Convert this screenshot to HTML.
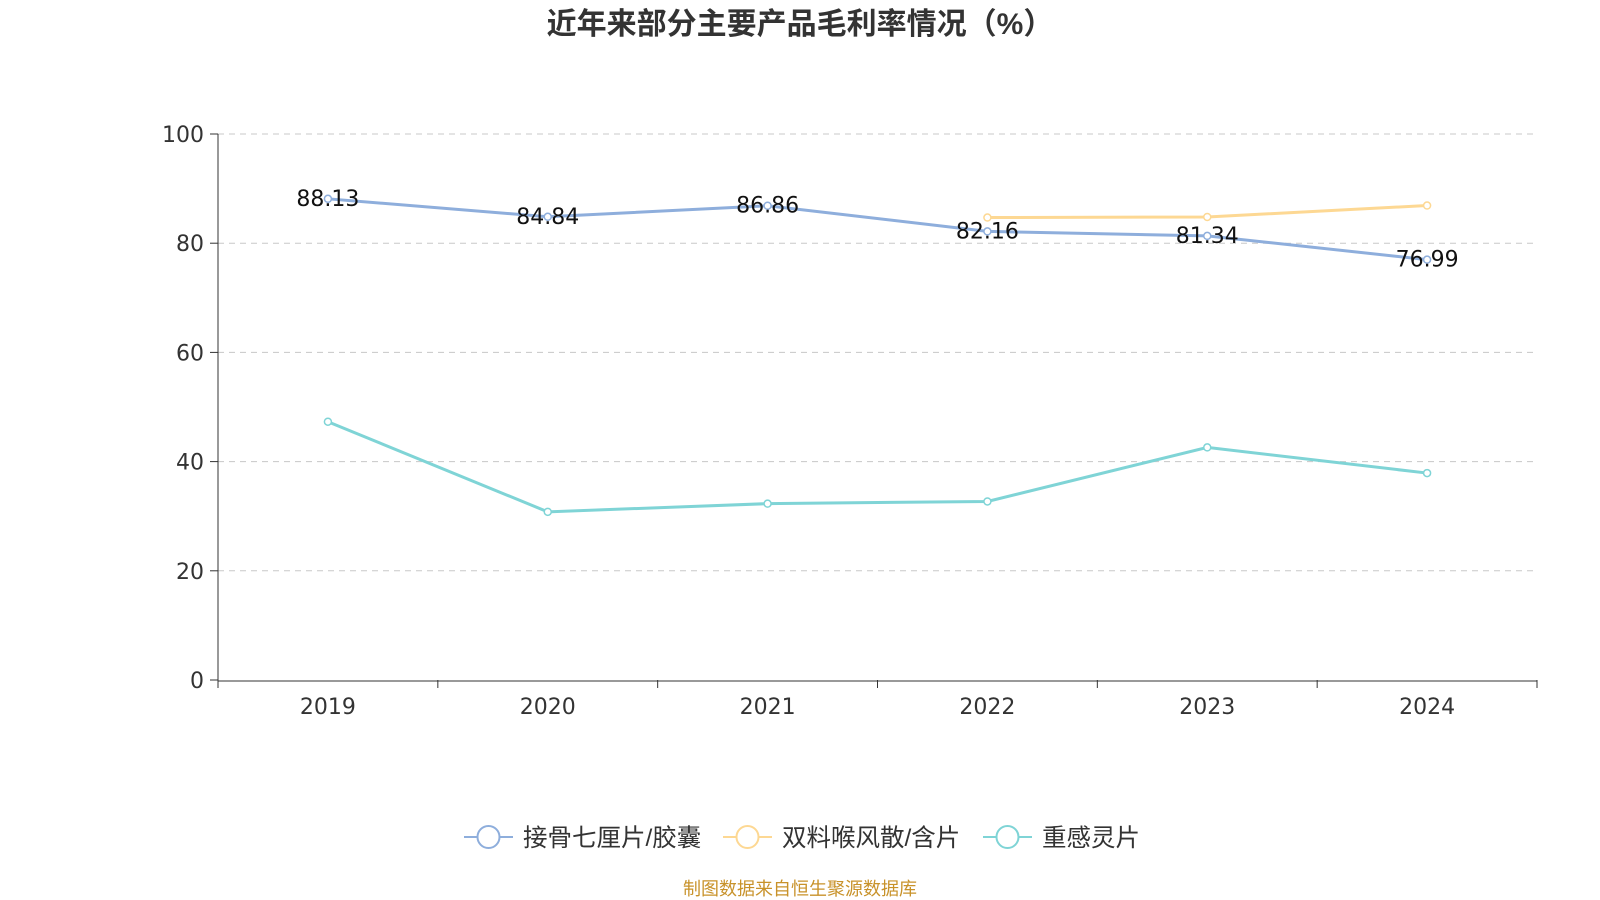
<!DOCTYPE html>
<html><head><meta charset="utf-8"><style>
body{margin:0;background:#fff;}
svg{display:block;font-family:"Liberation Sans","Noto Sans CJK SC",sans-serif;}
</style></head><body>
<svg id="c" width="1600" height="900">
<text x="800" y="34" text-anchor="middle" font-size="30" font-weight="bold" fill="#333">近年来部分主要产品毛利率情况（%）</text>
<g id="grid"></g><g id="axes"></g><g id="series"></g>
<g id="legend"></g>
<text x="800" y="895" text-anchor="middle" font-size="18" fill="#c8922a">制图数据来自恒生聚源数据库</text>
</svg>
<script>
const categories=["2019","2020","2021","2022","2023","2024"];
const seriesNames=["接骨七厘片/胶囊","双料喉风散/含片","重感灵片"];
const s1=[88.13,84.84,86.86,82.16,81.34,76.99];
const s2=[null,null,null,84.7,84.8,86.9];
const s3=[47.3,30.8,32.3,32.7,42.6,37.9];
const yTicks=[0,20,40,60,80,100];
const colors=["#8eaedc","#fdd893","#7fd4d6"];
const NS="http://www.w3.org/2000/svg";
const X0=218,X1=1537,Y0=680,Y1=134;
const band=(X1-X0)/categories.length;
const xs=i=>X0+band*(i+0.5);
const ys=v=>Y0-(v/100)*(Y0-Y1);
function mk(tag,at,parent){const e=document.createElementNS(NS,tag);for(const k in at)e.setAttribute(k,at[k]);parent.appendChild(e);return e;}
const grid=document.getElementById('grid'),axes=document.getElementById('axes'),ser=document.getElementById('series'),leg=document.getElementById('legend');
const numFont='"DejaVu Sans","Liberation Sans",sans-serif';
yTicks.forEach(t=>{
  const y=ys(t);
  if(t>0){const l=mk('line',{x1:X0,x2:X1,y1:y,y2:y,stroke:"#c8c8c8","stroke-dasharray":"6,5"},grid);
  
  }
  mk('line',{x1:X0-8,x2:X0,y1:y,y2:y,stroke:"#333"},axes);
  const tx=mk('text',{x:X0-14,y:y+8,"text-anchor":"end","font-size":22,fill:"#333","font-family":numFont},axes);tx.textContent=t;
  
  
});
mk('line',{x1:X0,x2:X0,y1:Y1,y2:Y0,stroke:"#333"},axes);
mk('line',{x1:X0,x2:X1,y1:Y0+1,y2:Y0+1,stroke:"#333"},axes);
for(let i=0;i<=categories.length;i++){const x=X0+band*i;mk('line',{x1:x,x2:x,y1:Y0,y2:Y0+8,stroke:"#333"},axes);}
categories.forEach((c,i)=>{const t=mk('text',{x:xs(i),y:Y0+34,"text-anchor":"middle","font-size":22,fill:"#333","font-family":numFont},axes);t.textContent=c;

});
[s1,s2,s3].forEach((s,k)=>{
  const pts=[];s.forEach((v,i)=>{if(v!==null)pts.push([xs(i),ys(v),v]);});
  const p=mk('polyline',{points:pts.map(p=>p[0]+","+p[1]).join(" "),fill:"none",stroke:colors[k],"stroke-width":3},ser);
  
  
  pts.forEach(pt=>{const c=mk('circle',{cx:pt[0],cy:pt[1],r:3.5,fill:"#fff",stroke:colors[k],"stroke-width":1.5},ser);
  
  });
});
s1.forEach((v,i)=>{const t=mk('text',{x:xs(i),y:ys(v)+7,"text-anchor":"middle","font-size":22,fill:"#111","font-family":numFont},ser);t.textContent=v.toFixed(2);

});
const lx=[464,723,983];
seriesNames.forEach((n,k)=>{
  const g=mk('g',{},leg);
  
  
  mk('line',{x1:lx[k],x2:lx[k]+49,y1:837,y2:837,stroke:colors[k],"stroke-width":2},g);
  mk('circle',{cx:lx[k]+24.5,cy:837,r:11,fill:"#fff",stroke:colors[k],"stroke-width":2},g);
  const t=mk('text',{x:lx[k]+59,y:846,"font-size":24.5,fill:"#333"},g);t.textContent=n;
});
</script>
</body></html>
